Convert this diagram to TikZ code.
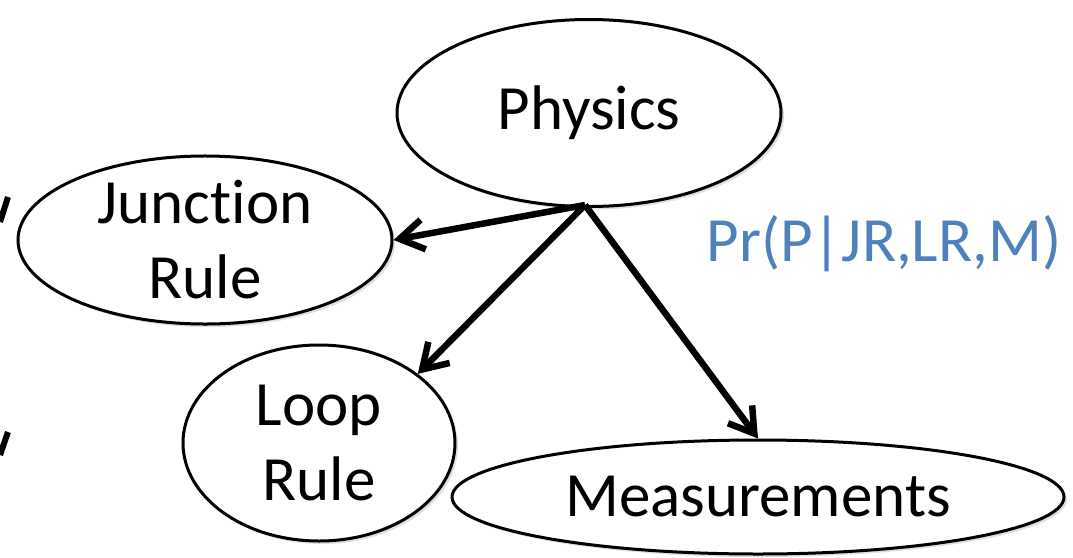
\documentclass[tikz,border=0pt]{standalone}
\usepackage{fontspec}
\setmainfont[Ligatures={NoCommon}]{Carlito}
\usetikzlibrary{shapes.geometric,arrows.meta,shadows}
\definecolor{probblue}{RGB}{79,129,189}

\begin{document}
\begin{tikzpicture}
  [x=1pt,y=-1pt,
   every node/.style={font=\fontsize{63}{75}\selectfont,align=center},
   var/.style={ellipse,draw,line width=3pt,fill=white,inner sep=0pt,
     drop shadow={opacity=.25,shadow xshift=3pt,shadow yshift=-3pt}},
   dep/.style={line width=6.5pt,-{Straight Barb[length=24pt,width=30pt]}}]
  \useasboundingbox (0,0) rectangle (1073,557);

  \node[var,minimum width=384pt,minimum height=187pt] (phys) at (589,113) {Physics};
  \node[var,minimum width=374pt,minimum height=160pt] (junc) at (205,240) {Junction\\Rule};
  \node[var,minimum width=272pt,minimum height=196pt] (loop) at (319,443) {Loop\\Rule};
  \node[var,minimum width=612pt,minimum height=114pt] (meas) at (758,497) {Measurements};
  \node[text=probblue] (prob) at (884,244) {Pr(P|JR,LR,M)};

  \coordinate (top) at (585,205);
  \draw[dep] (top) -- (junc.east);
  \draw[dep] (top) -- (loop.35);
  \draw[dep] (top) -- (meas.north);

  % cut-off letters at the left edge
  \draw[line width=6pt] (8,197) -- (0,222);
  \draw[line width=6pt] (8,432) -- (0,455);
\end{tikzpicture}
\end{document}
